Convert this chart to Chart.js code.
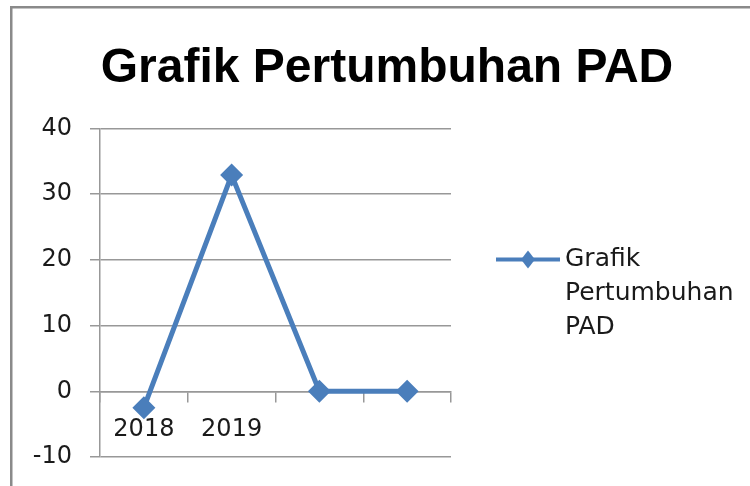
<!DOCTYPE html>
<html><head><meta charset="utf-8">
<script src="https://cdn.jsdelivr.net/npm/chart.js@4.4.1/dist/chart.umd.min.js"></script>
<style>html,body{margin:0;padding:0;background:#fff}canvas{display:block}</style>
</head><body>
<canvas id="c" width="750" height="486"></canvas>
<script>
const chartTitle = 'Grafik Pertumbuhan PAD';
const categories = ['2018', '2019', '', ''];
const seriesLabel = ['Grafik', 'Pertumbuhan', 'PAD'];
const seriesValues = [-2.5, 32.9, 0, 0];
const yMin = -10, yMax = 40, yStep = 10;

const BLUE = '#4a7ebb';
const GRID = '#989898';
const TEXT = '#1a1a1a';

const framePlugin = {
  id: 'frame',
  beforeDraw(chart) {
    const ctx = chart.ctx;
    ctx.save();
    ctx.fillStyle = '#fff';
    ctx.fillRect(0, 0, chart.width, chart.height);
    ctx.strokeStyle = '#8a8a8a';
    ctx.lineWidth = 2.5;
    ctx.beginPath();
    ctx.moveTo(11.25, chart.height);
    ctx.lineTo(11.25, 7.25);
    ctx.lineTo(chart.width, 7.25);
    ctx.stroke();
    ctx.restore();
  }
};

// legend drawn next to the plot: line + diamond marker + wrapped label
const sideLegend = {
  id: 'sideLegend',
  afterDraw(chart) {
    const ca = chart.chartArea;
    const ds = chart.data.datasets[0];
    const ctx = chart.ctx;
    const x0 = ca.right + 45, x1 = ca.right + 109;
    const y0 = ca.top + 131;
    const lineGap = 34;
    ctx.save();
    ctx.strokeStyle = ds.borderColor;
    ctx.lineWidth = 4;
    ctx.beginPath();
    ctx.moveTo(x0, y0);
    ctx.lineTo(x1, y0);
    ctx.stroke();
    const cx = (x0 + x1) / 2;
    ctx.fillStyle = ds.borderColor;
    ctx.beginPath();
    ctx.moveTo(cx, y0 - 9);
    ctx.lineTo(cx + 7, y0);
    ctx.lineTo(cx, y0 + 9);
    ctx.lineTo(cx - 7, y0);
    ctx.closePath();
    ctx.fill();
    ctx.fillStyle = TEXT;
    ctx.font = '25px "DejaVu Sans"';
    ctx.textBaseline = 'middle';
    ctx.textAlign = 'left';
    seriesLabel.forEach((t, i) => ctx.fillText(t, x1 + 5, y0 + i * lineGap));
    ctx.restore();
  }
};

new Chart(document.getElementById('c'), {
  type: 'line',
  data: {
    labels: categories,
    datasets: [{
      label: seriesLabel.join(' '),
      data: seriesValues,
      borderColor: BLUE,
      backgroundColor: BLUE,
      borderWidth: 5,
      tension: 0,
      pointStyle: 'rectRot',
      pointRadius: 11.5,
      pointHoverRadius: 11.5,
      pointBackgroundColor: BLUE,
      pointBorderColor: BLUE,
      pointBorderWidth: 0,
      clip: false
    }]
  },
  options: {
    responsive: false,
    animation: false,
    devicePixelRatio: 1,
    layout: { padding: { left: 24, right: 0, top: 0, bottom: 29 } },
    plugins: {
      tooltip: { enabled: false },
      legend: { display: false },
      title: {
        display: true,
        text: chartTitle,
        color: '#000',
        font: { family: '"Liberation Sans", Arial, sans-serif', size: 48, weight: 'bold', lineHeight: 1.2 },
        padding: { top: 39.5, bottom: 31.3 }
      }
    },
    scales: {
      x: {
        type: 'category',
        position: { y: 0 },
        offset: true,
        grid: { offset: true, drawOnChartArea: false, drawTicks: true, tickLength: 10, color: GRID, lineWidth: 1.5 },
        border: { display: true, color: GRID, width: 1.5 },
        ticks: { color: TEXT, font: { family: '"DejaVu Sans"', size: 24 }, padding: 14, autoSkip: false, maxRotation: 0 }
      },
      y: {
        position: 'left',
        min: yMin,
        max: yMax,
        afterFit(scale) { scale.width = 76; scale.paddingTop = 10; scale.paddingBottom = 10; },
        grid: { color: GRID, lineWidth: 1.5, drawTicks: true, tickLength: 10 },
        border: { display: true, color: GRID, width: 1.5 },
        ticks: { stepSize: yStep, color: TEXT, font: { family: '"DejaVu Sans"', size: 24 }, padding: 18 }
      },
      yLegendSpace: {
        position: 'right',
        min: yMin,
        max: yMax,
        display: true,
        afterFit(scale) { scale.width = 299; scale.paddingTop = 0; scale.paddingBottom = 0; },
        grid: { display: false, drawTicks: false },
        border: { display: false },
        ticks: { display: false }
      }
    }
  },
  plugins: [framePlugin, sideLegend]
});
</script>
</body></html>
